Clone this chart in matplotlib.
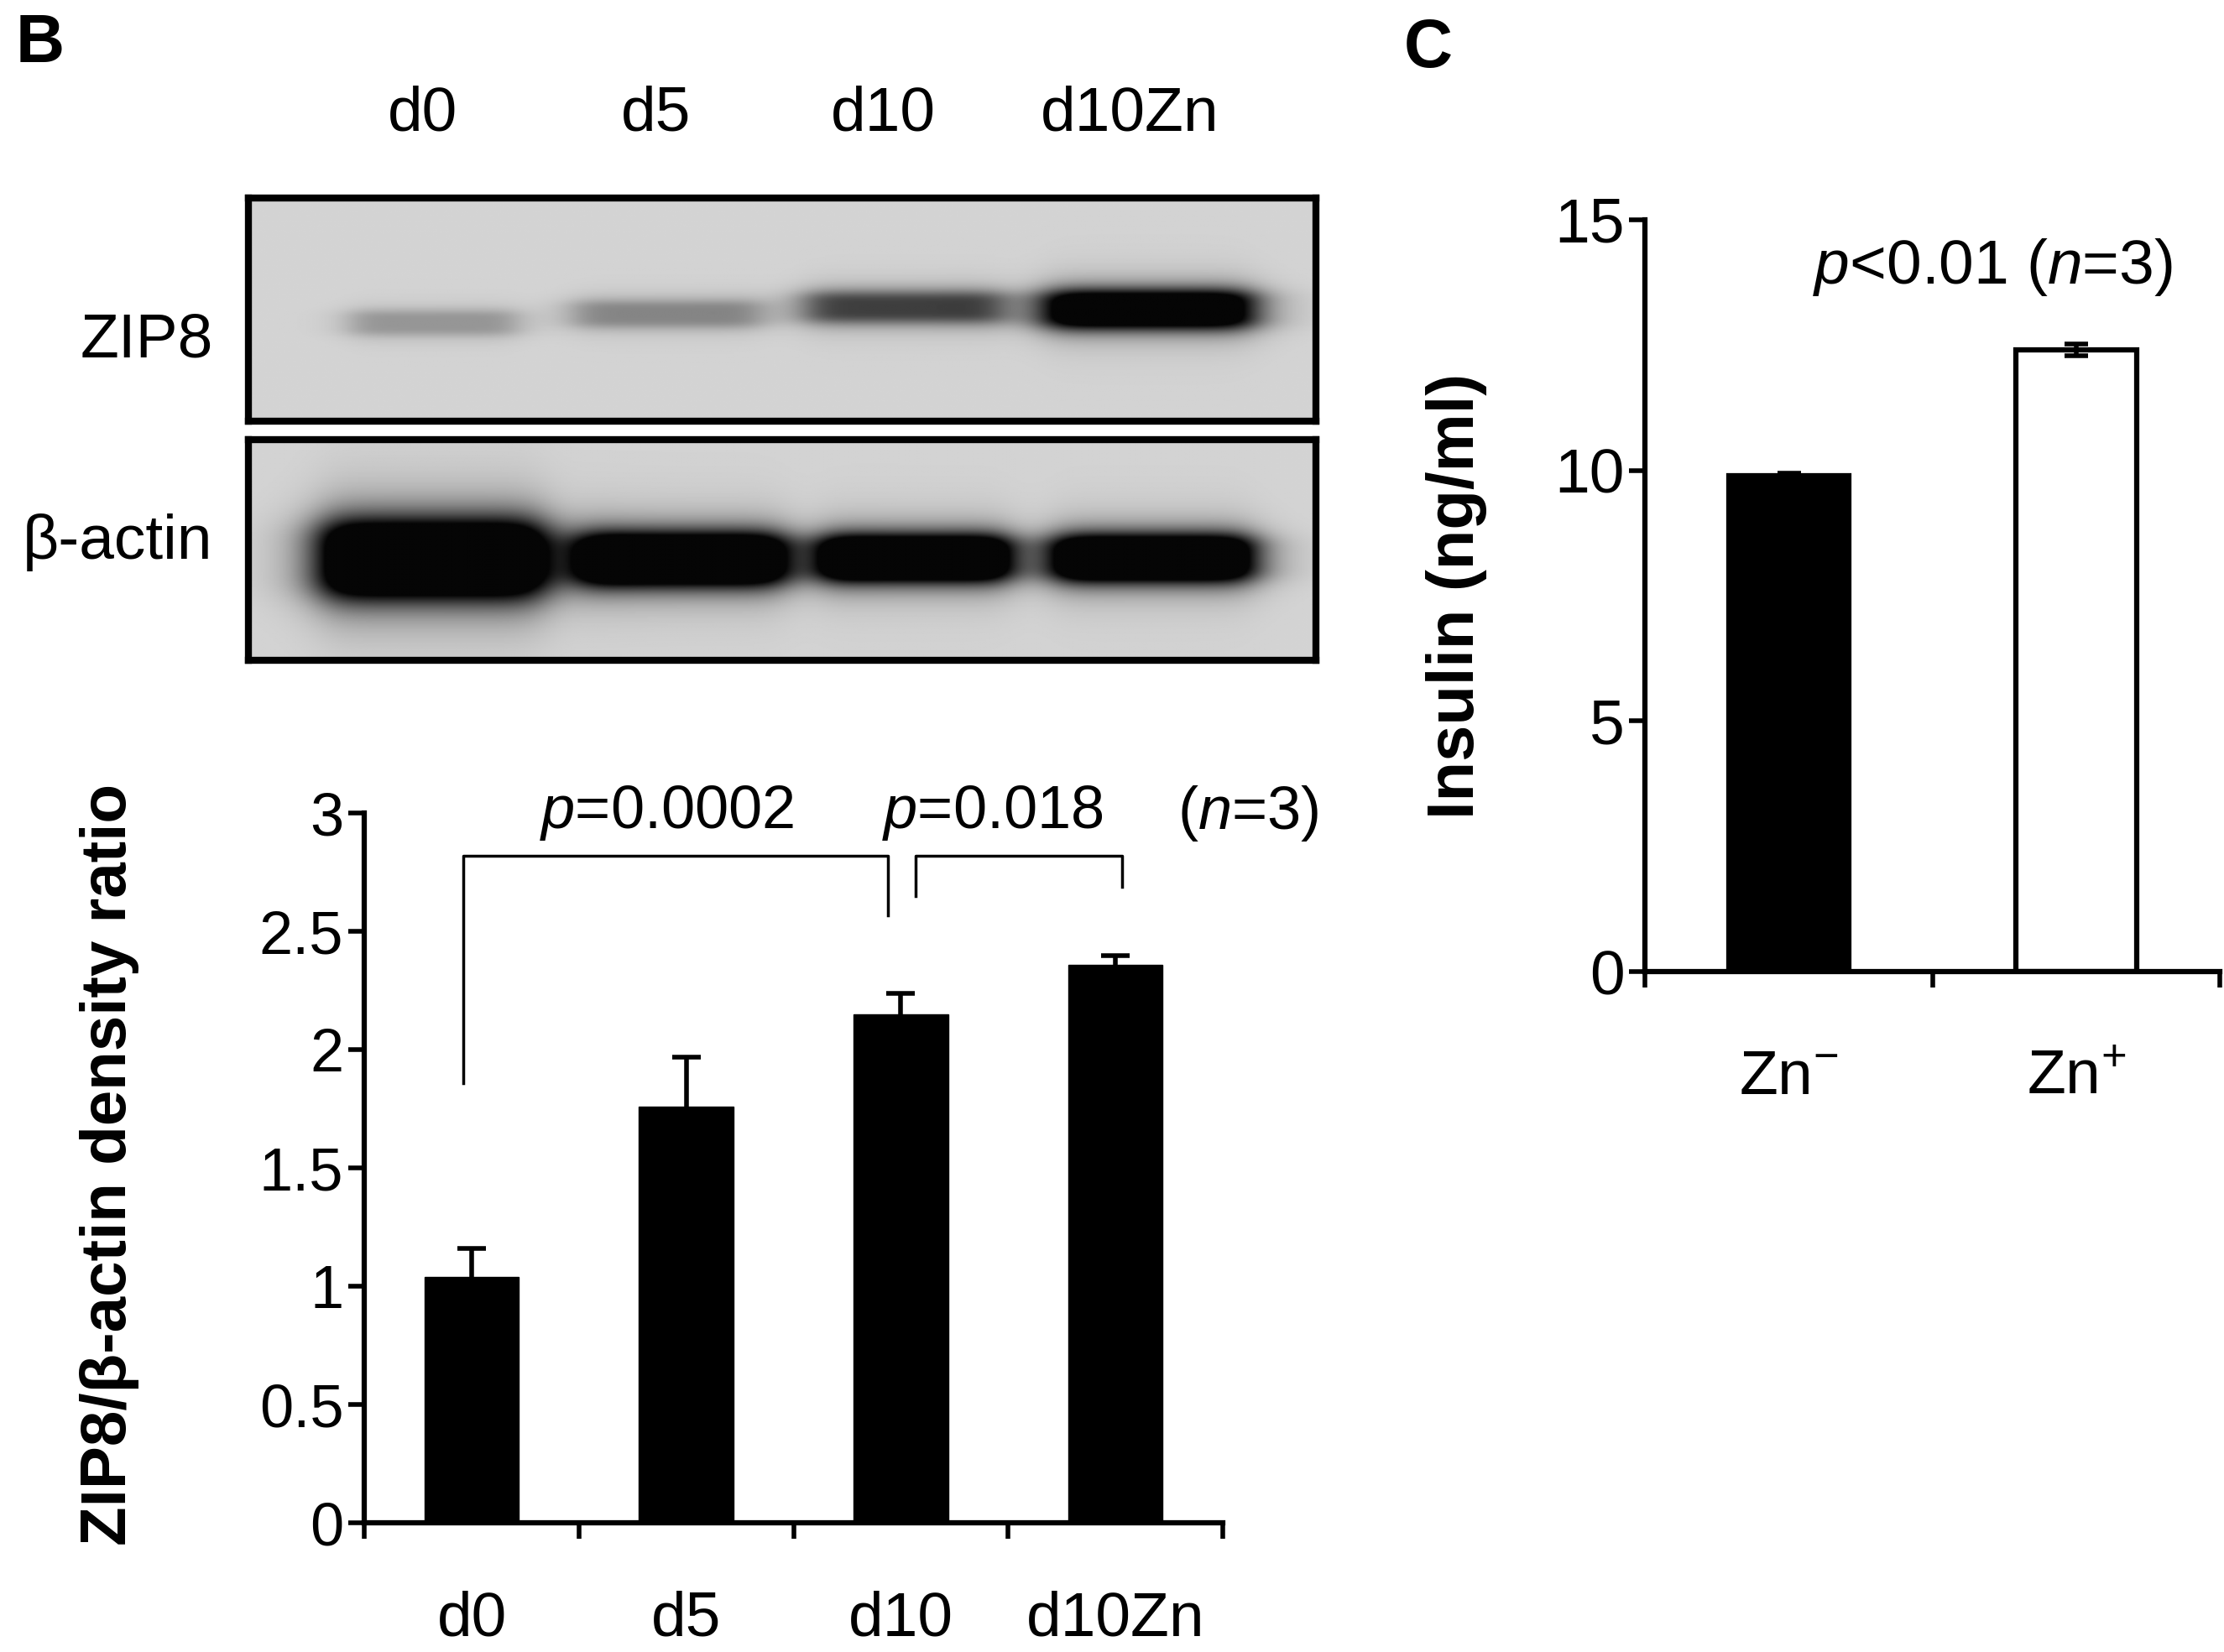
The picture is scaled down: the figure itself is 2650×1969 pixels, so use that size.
import numpy as np
import matplotlib
matplotlib.use("Agg")
import matplotlib.pyplot as plt

plt.rcParams['font.family'] = ['Liberation Sans', 'DejaVu Sans']
plt.rcParams['mathtext.fontset'] = 'custom'
plt.rcParams['mathtext.rm'] = 'Liberation Sans'
plt.rcParams['mathtext.it'] = 'Liberation Sans:italic'
plt.rcParams['mathtext.bf'] = 'Liberation Sans:bold'

NARROW = ['Liberation Sans Narrow', 'Liberation Sans', 'DejaVu Sans']

# ---------------- data ----------------
lanes = ['d0', 'd5', 'd10', 'd10Zn']
ratio_mean = [1.04, 1.76, 2.15, 2.36]
ratio_err = [0.12, 0.21, 0.09, 0.04]
ratio_ticks = [0, 0.5, 1, 1.5, 2, 2.5, 3]
ratio_ticklabels = ['0', '0.5', '1', '1.5', '2', '2.5', '3']

insulin_groups = ['Zn$^{-}$', 'Zn$^{+}$']
insulin_mean = [9.9, 12.4]
insulin_err = [0.05, 0.12]
insulin_ticks = [0, 5, 10, 15]

# western blot band parameters (lane centre, width, vertical centre, height, darkness)
zip8_x = [0.173, 0.392, 0.614, 0.843]
zip8_w = [0.16, 0.18, 0.19, 0.20]
zip8_y = [0.56, 0.52, 0.49, 0.50]
zip8_h = [0.12, 0.13, 0.15, 0.18]
zip8_dark = [0.30, 0.38, 0.72, 1.4]

actin_x = [0.172, 0.405, 0.624, 0.847]
actin_w = [0.215, 0.200, 0.182, 0.192]
actin_y = [0.545, 0.545, 0.54, 0.54]
actin_h = [0.37, 0.25, 0.22, 0.22]
actin_dark = [1.6, 1.6, 1.6, 1.6]

W, H = 2650, 1969
fig = plt.figure(figsize=(W / 100, H / 100), dpi=100)


def draw_blot(ax, xs, ws, ys, hs, ks):
    nx, ny = 800, 220
    X, Y = np.meshgrid(np.linspace(0, 1, nx), np.linspace(0, 1, ny))
    d = np.zeros_like(X)
    for c, w, yc, h, k in zip(xs, ws, ys, hs, ks):
        gx = 1.0 / (1.0 + np.abs((X - c) / (w / 2)) ** 8)
        gy = 1.0 / (1.0 + np.abs((Y - yc) / (h / 2)) ** 4)
        d += k * gx * gy
    d = np.clip(d, 0, 1)
    bg = 0.83
    img = bg * (1 - d) + 0.02 * d
    ax.imshow(img, cmap='gray', vmin=0, vmax=1, extent=(0, 1, 1, 0),
              aspect='auto', interpolation='bilinear')
    ax.set_xticks([])
    ax.set_yticks([])
    for s in ax.spines.values():
        s.set_linewidth(6)
        s.set_color('black')


# ---------------- western blot ----------------
ax_zip = fig.add_axes([0.1116, 0.7453, 0.4802, 0.1346])
draw_blot(ax_zip, zip8_x, zip8_w, zip8_y, zip8_h, zip8_dark)
ax_act = fig.add_axes([0.1116, 0.6003, 0.4802, 0.1338])
draw_blot(ax_act, actin_x, actin_w, actin_y, actin_h, actin_dark)

lane_label_x = [0.190, 0.295, 0.397, 0.508]
for lx, lab in zip(lane_label_x, lanes):
    fig.text(lx, 0.931, lab, ha='center', va='center', fontsize=54, family=NARROW)
fig.text(0.0957, 0.794, 'ZIP8', ha='right', va='center', fontsize=54, family=NARROW)
fig.text(0.0957, 0.6715, 'β-actin', ha='right', va='center', fontsize=54, family=NARROW)

fig.text(0.018, 0.973, 'B', ha='center', va='center', fontsize=58, fontweight='bold')
fig.text(0.642, 0.970, 'C', ha='center', va='center', fontsize=58, fontweight='bold')

# ---------------- panel B bar chart ----------------
axb = fig.add_axes([0.1639, 0.0780, 0.3858, 0.4297])
xb = np.arange(len(lanes))
axb.bar(xb, ratio_mean, width=0.44, color='black', edgecolor='black', zorder=2)
eb = axb.errorbar(xb, ratio_mean, yerr=[np.zeros(len(lanes)), ratio_err], fmt='none',
                  ecolor='black', elinewidth=4, capsize=12, capthick=4, zorder=1)
eb[1][0].set_visible(False)  # hide lower caps (one-sided error bars)
axb.set_xlim(-0.5, len(lanes) - 0.5)
axb.set_ylim(0, 3)
axb.set_yticks(ratio_ticks)
axb.set_yticklabels(ratio_ticklabels, family=NARROW, fontsize=52)
axb.set_xticks(np.arange(len(lanes) + 1) - 0.5)
axb.set_xticklabels([])
axb.set_xticks(xb, minor=True)
axb.set_xticklabels(lanes, minor=True, family=NARROW, fontsize=54)
axb.tick_params(axis='x', which='minor', length=0, pad=58)
axb.tick_params(axis='x', which='major', direction='out', length=14, width=4)
axb.tick_params(axis='y', direction='out', length=14, width=4, pad=4)
for s in ['top', 'right']:
    axb.spines[s].set_visible(False)
for s in ['left', 'bottom']:
    axb.spines[s].set_linewidth(4.5)
axb.set_ylabel('ZIP8/β-actin density ratio', fontsize=55, fontweight='bold')
axb.yaxis.set_label_coords(-0.262, 0.505)

# brackets
br_lw = 2.5
axb.plot([-0.04, -0.04, 1.94, 1.94], [1.86, 2.82, 2.82, 2.57], color='black', lw=br_lw,
         clip_on=False)
axb.plot([2.07, 2.07, 3.03, 3.03], [2.65, 2.82, 2.82, 2.69], color='black', lw=br_lw,
         clip_on=False)
axb.text(0.91, 3.0, r'$\mathit{p}$=0.0002', ha='center', va='center', fontsize=52,
         family=NARROW, clip_on=False)
axb.text(2.43, 3.0, r'$\mathit{p}$=0.018', ha='center', va='center', fontsize=52,
         family=NARROW, clip_on=False)
axb.text(3.62, 3.0, r'($\mathit{n}$=3)', ha='center', va='center', fontsize=52,
         family=NARROW, clip_on=False)

# ---------------- panel C bar chart ----------------
axc = fig.add_axes([0.7398, 0.4117, 0.2583, 0.4554])
xc = np.arange(len(insulin_groups))
axc.bar(xc, insulin_mean, width=0.42, color=['black', 'white'], edgecolor='black',
        linewidth=4.5, zorder=2)
axc.errorbar(xc, insulin_mean, yerr=insulin_err, fmt='none', ecolor='black',
             elinewidth=4, capsize=10, capthick=4, zorder=3)
axc.set_xlim(-0.5, len(insulin_groups) - 0.5)
axc.set_ylim(0, 15)
axc.set_yticks(insulin_ticks)
axc.set_yticklabels([str(t) for t in insulin_ticks], fontsize=54)
axc.set_xticks(np.arange(len(insulin_groups) + 1) - 0.5)
axc.set_xticklabels([])
axc.set_xticks(xc, minor=True)
axc.set_xticklabels(insulin_groups, minor=True, fontsize=54)
axc.tick_params(axis='x', which='minor', length=0, pad=66)
axc.tick_params(axis='x', which='major', direction='out', length=14, width=4)
axc.tick_params(axis='y', direction='out', length=14, width=4, pad=4)
for s in ['top', 'right']:
    axc.spines[s].set_visible(False)
for s in ['left', 'bottom']:
    axc.spines[s].set_linewidth(4.5)
axc.set_ylabel('Insulin (ng/ml)', fontsize=56, fontweight='bold')
axc.yaxis.set_label_coords(-0.275, 0.5)
axc.text(0.71, 14.05, r'$\mathit{p}$<0.01 ($\mathit{n}$=3)', ha='center', va='center',
         fontsize=54, clip_on=False)

fig.savefig('out.png', dpi=100, facecolor='white')
